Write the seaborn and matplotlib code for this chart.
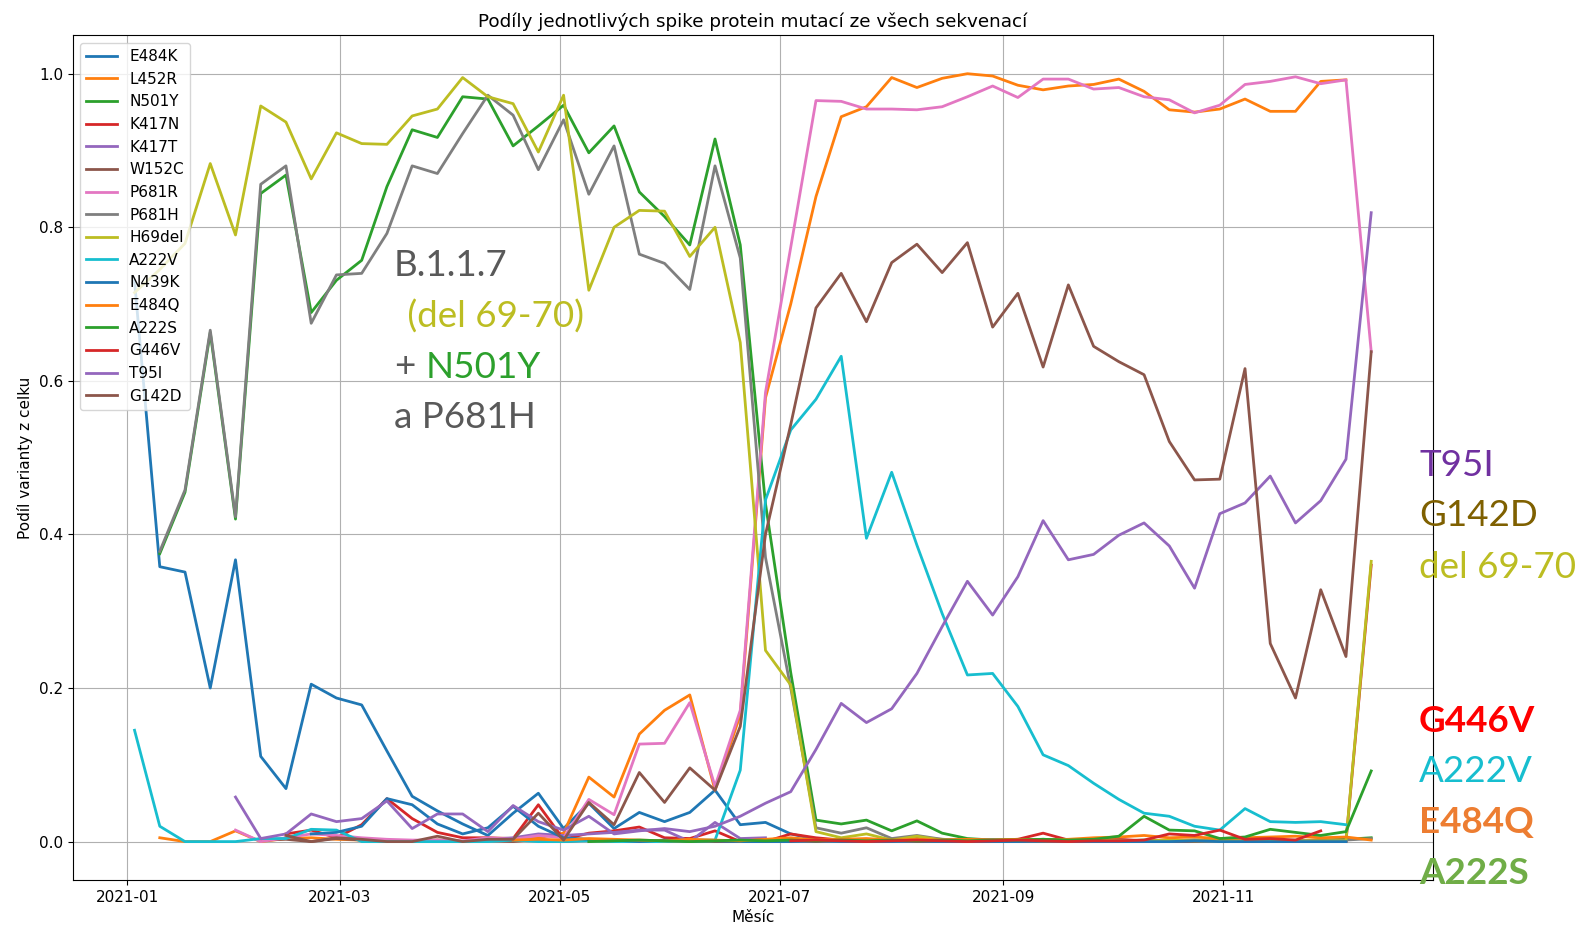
import numpy as np
import pandas as pd
import seaborn as sns
import matplotlib.pyplot as plt
import matplotlib.dates as mdates

nan = np.nan

# weekly samples (Sundays)
dates = pd.date_range("2021-01-03", periods=50, freq="7D")

mutations = ["E484K", "L452R", "N501Y", "K417N", "K417T", "W152C", "P681R", "P681H",
             "H69del", "A222V", "N439K", "E484Q", "A222S", "G446V", "T95I", "G142D"]

colors = ["#1f77b4", "#ff7f0e", "#2ca02c", "#d62728", "#9467bd", "#8c564b", "#e377c2", "#7f7f7f",
          "#bcbd22", "#17becf", "#1f77b4", "#ff7f0e", "#2ca02c", "#d62728", "#9467bd", "#8c564b"]

# ---------------- DATA ---------------- #

E484K = [0.73, 0.358, 0.351, 0.20, 0.367, 0.111, 0.069, 0.205, 0.187, 0.178,
         0.118, 0.059, 0.040, 0.023, 0.008, 0.037, 0.063, 0.017, 0.050, 0.017,
         0.038, 0.026, 0.038, 0.067, 0.022, 0.025, 0.010, 0.003, 0.001, 0.002,
         0.001, 0.001, 0.000, 0.001, 0.002, 0.001, 0.000, 0.001, 0.001, 0.000,
         0.001, 0.000, 0.001, 0.002, 0.000, 0.001, 0.000, 0.002, 0.001, nan]

L452R = [nan, 0.005, 0.000, 0.000, 0.014, 0.000, 0.004, 0.005, 0.003, 0.002,
         0.001, 0.000, 0.002, 0.000, 0.003, 0.002, 0.005, 0.011, 0.084, 0.058,
         0.140, 0.171, 0.191, 0.067, 0.165, 0.578, 0.700, 0.840, 0.944, 0.957,
         0.995, 0.982, 0.994, 1.000, 0.997, 0.985, 0.979, 0.984, 0.986, 0.993,
         0.977, 0.953, 0.950, 0.954, 0.967, 0.951, 0.951, 0.990, 0.992, nan]

N501Y = [nan, 0.375, 0.455, 0.663, 0.420, 0.844, 0.868, 0.689, 0.731, 0.757,
         0.853, 0.927, 0.917, 0.970, 0.967, 0.906, 0.932, 0.959, 0.897, 0.932,
         0.846, 0.814, 0.777, 0.915, 0.777, 0.440, 0.220, 0.028, 0.023, 0.028,
         0.014, 0.027, 0.011, 0.004, 0.002, 0.002, 0.003, 0.002, 0.002, 0.001,
         0.002, 0.001, 0.002, 0.001, 0.002, 0.001, 0.001, 0.002, 0.003, 0.005]

K417N = [nan, nan, nan, nan, nan, nan, 0.010, 0.015, 0.005, 0.022,
         0.056, 0.030, 0.012, 0.005, 0.005, 0.004, 0.048, 0.003, 0.011, 0.014,
         0.019, 0.005, 0.004, 0.014, 0.000, 0.000, 0.010, 0.005, 0.002, 0.003,
         0.002, 0.004, 0.003, 0.002, 0.002, 0.003, 0.011, 0.002, 0.002, 0.003,
         0.001, 0.002, 0.001, 0.002, 0.001, 0.002, 0.001, 0.002, 0.000, 0.360]

K417T = [nan, nan, nan, nan, nan, nan, nan, nan, nan, nan,
         nan, nan, nan, nan, 0.003, 0.005, 0.010, 0.008, 0.010, 0.012,
         0.015, 0.015, 0.000, 0.025, 0.004, 0.005, nan, nan, nan, nan,
         nan, nan, nan, nan, nan, nan, nan, nan, nan, nan,
         nan, nan, nan, nan, nan, nan, nan, nan, nan, nan]

W152C = [nan, nan, nan, nan, nan, 0.002, 0.003, 0.000, 0.004, 0.002,
         0.000, 0.000, 0.002, 0.000, 0.001, 0.000, 0.003, 0.000, 0.002, 0.000,
         0.001, 0.000, 0.002, 0.000, 0.000, 0.003, 0.001, 0.000, 0.001, 0.000,
         0.001, 0.000, 0.000, 0.001, 0.000, 0.000, 0.001, 0.000, 0.000, 0.000,
         0.001, 0.000, 0.000, 0.001, 0.000, 0.000, 0.000, 0.001, 0.000, nan]

P681R = [nan, nan, nan, nan, 0.015, 0.000, 0.005, 0.010, 0.008, 0.005,
         0.003, 0.002, 0.002, 0.001, 0.005, 0.003, 0.008, 0.005, 0.055, 0.035,
         0.127, 0.128, 0.181, 0.072, 0.171, 0.585, 0.774, 0.965, 0.964, 0.954,
         0.954, 0.953, 0.957, 0.970, 0.984, 0.969, 0.993, 0.993, 0.980, 0.982,
         0.970, 0.966, 0.949, 0.959, 0.986, 0.990, 0.996, 0.987, 0.992, 0.638]

P681H = [nan, 0.378, 0.458, 0.666, 0.423, 0.856, 0.880, 0.675, 0.738, 0.740,
         0.792, 0.880, 0.870, 0.922, 0.972, 0.946, 0.875, 0.940, 0.843, 0.906,
         0.765, 0.753, 0.719, 0.880, 0.760, 0.370, 0.200, 0.018, 0.011, 0.018,
         0.004, 0.008, 0.003, 0.002, 0.002, 0.001, 0.002, 0.001, 0.001, 0.002,
         0.001, 0.001, 0.002, 0.001, 0.001, 0.001, 0.002, 0.001, 0.002, 0.004]

H69del = [0.715, 0.745, 0.779, 0.883, 0.790, 0.958, 0.937, 0.863, 0.923, 0.909,
          0.908, 0.945, 0.954, 0.995, 0.970, 0.961, 0.898, 0.972, 0.718, 0.800,
          0.822, 0.821, 0.762, 0.800, 0.650, 0.249, 0.204, 0.013, 0.005, 0.010,
          0.002, 0.007, 0.002, 0.002, 0.001, 0.002, 0.001, 0.001, 0.002, 0.001,
          0.001, 0.002, 0.001, 0.001, 0.001, 0.002, 0.001, 0.001, 0.001, 0.365]

A222V = [0.145, 0.020, 0.000, 0.000, 0.000, 0.004, 0.004, 0.016, 0.015, 0.000,
         0.000, 0.000, 0.000, 0.000, 0.000, 0.002, 0.000, 0.000, 0.001, 0.000,
         0.000, 0.000, 0.002, 0.002, 0.093, 0.445, 0.536, 0.576, 0.632, 0.395,
         0.481, 0.386, 0.297, 0.217, 0.219, 0.176, 0.113, 0.099, 0.076, 0.055,
         0.037, 0.033, 0.020, 0.015, 0.043, 0.026, 0.025, 0.026, 0.022, nan]

N439K = [nan, nan, nan, nan, nan, nan, nan, 0.010, 0.012, 0.020,
         0.056, 0.048, 0.023, 0.010, 0.018, 0.046, 0.020, 0.005, 0.003, 0.002,
         0.000, 0.002, 0.000, 0.001, 0.000, 0.000, 0.000, 0.001, 0.000, 0.000,
         0.000, 0.001, 0.000, 0.000, 0.000, 0.000, 0.001, 0.000, 0.000, 0.000,
         0.000, 0.000, 0.001, 0.000, 0.000, 0.000, 0.000, 0.000, 0.000, nan]

E484Q = [nan, nan, nan, nan, nan, nan, nan, nan, nan, nan,
         nan, nan, nan, nan, nan, 0.002, 0.003, 0.002, 0.004, 0.003,
         0.002, 0.001, 0.003, 0.002, 0.001, 0.003, 0.005, 0.002, 0.003, 0.004,
         0.002, 0.003, 0.002, 0.003, 0.002, 0.003, 0.002, 0.003, 0.005, 0.006,
         0.008, 0.005, 0.006, 0.004, 0.005, 0.006, 0.007, 0.005, 0.006, 0.002]

A222S = [nan, nan, nan, nan, nan, nan, nan, nan, nan, nan,
         nan, nan, nan, nan, nan, nan, nan, nan, 0.000, 0.001,
         0.002, 0.001, 0.000, 0.001, 0.002, 0.001, 0.002, 0.001, 0.002, 0.001,
         0.002, 0.001, 0.002, 0.001, 0.002, 0.002, 0.003, 0.002, 0.003, 0.007,
         0.033, 0.015, 0.014, 0.004, 0.006, 0.016, 0.012, 0.008, 0.013, 0.092]

G446V = [nan, nan, nan, nan, nan, nan, nan, nan, nan, nan,
         nan, nan, nan, nan, nan, nan, nan, nan, nan, nan,
         nan, nan, nan, nan, nan, nan, 0.001, 0.002, 0.001, 0.000,
         0.001, 0.002, 0.001, 0.000, 0.001, 0.002, 0.001, 0.000, 0.001, 0.001,
         0.002, 0.010, 0.008, 0.015, 0.003, 0.004, 0.002, 0.014, nan, nan]

T95I = [nan, nan, nan, nan, 0.058, 0.004, 0.010, 0.036, 0.026, 0.030,
        0.053, 0.017, 0.036, 0.036, 0.013, 0.047, 0.026, 0.015, 0.033, 0.010,
        0.014, 0.017, 0.013, 0.020, 0.033, 0.050, 0.065, 0.120, 0.180, 0.155,
        0.173, 0.219, 0.280, 0.339, 0.295, 0.345, 0.418, 0.367, 0.374, 0.399,
        0.415, 0.385, 0.330, 0.427, 0.441, 0.476, 0.415, 0.444, 0.498, 0.819]

G142D = [nan, nan, nan, nan, nan, nan, 0.008, 0.000, 0.005, 0.003,
         0.000, 0.000, 0.007, 0.000, 0.003, 0.003, 0.037, 0.002, 0.051, 0.022,
         0.090, 0.051, 0.096, 0.067, 0.150, 0.400, 0.543, 0.695, 0.740, 0.677,
         0.754, 0.778, 0.741, 0.780, 0.670, 0.714, 0.618, 0.725, 0.645, 0.625,
         0.608, 0.521, 0.471, 0.472, 0.616, 0.258, 0.187, 0.328, 0.241, 0.638]

series = [E484K, L452R, N501Y, K417N, K417T, W152C, P681R, P681H,
          H69del, A222V, N439K, E484Q, A222S, G446V, T95I, G142D]

frames = []
for name, vals in zip(mutations, series):
    frames.append(pd.DataFrame({"datum": dates, "podil": vals, "mutace": name}))
df = pd.concat(frames, ignore_index=True).dropna()

# ---------------- PLOT ---------------- #

plt.rcParams["font.size"] = 11

fig = plt.figure(figsize=(15.84, 9.27), dpi=100)
ax = fig.add_axes([0.0459, 0.0507, 0.8588, 0.9112])

sns.lineplot(data=df, x="datum", y="podil", hue="mutace", hue_order=mutations,
             palette=colors, linewidth=2, estimator=None, ax=ax)

ax.xaxis.set_major_locator(mdates.MonthLocator(bymonth=[1, 3, 5, 7, 9, 11]))
ax.xaxis.set_major_formatter(mdates.DateFormatter("%Y-%m"))
ax.grid(True)
ax.set_title("Podíly jednotlivých spike protein mutací ze všech sekvenací")
ax.set_xlabel("Měsíc")
ax.set_ylabel("Podíl varianty z celku")

handles, labels = ax.get_legend_handles_labels()
ax.legend(handles, labels, loc="upper left")

# ---------------- OVERLAY TEXT ---------------- #

W, H = 1584, 927
ov_font = ["Lato", "DejaVu Sans"]
ov_size = 26.5
gray_txt = "#595959"


def put(x, y, s, color, bold=False, size=ov_size):
    fig.text(x / W, 1 - y / H, s, color=color, fontsize=size, family=ov_font,
             fontweight="bold" if bold else "normal", va="center", ha="left")


put(394, 266, "B.1.1.7", gray_txt)
put(398, 317, " (del 69-70)", "#bcbd22")
put(394, 367, "+", gray_txt)
put(426, 367, "N501Y", "#2ca02c")
put(394, 418, "a P681H", gray_txt)

put(1419, 466, "T95I", "#7030a0")
put(1419, 516, "G142D", "#7f6000")
put(1419, 567, "del 69-70", "#bcbd22")
put(1419, 721, "G446V", "#ff0000", bold=True)
put(1419, 772, "A222V", "#17becf")
put(1419, 822, "E484Q", "#ed7d31", bold=True)
put(1419, 873, "A222S", "#70ad47", bold=True)

fig.savefig("out.png", dpi=100)
